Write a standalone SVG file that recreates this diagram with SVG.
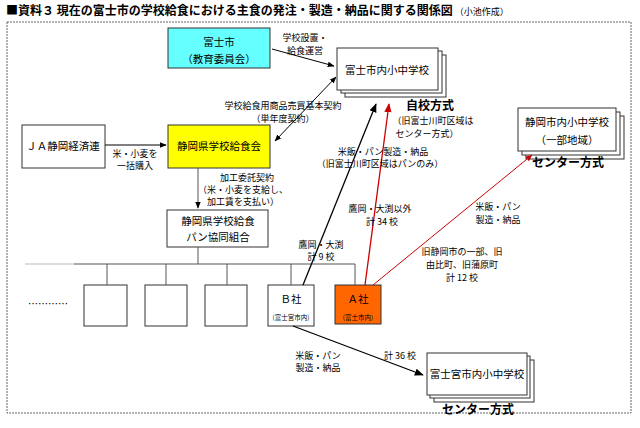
<svg xmlns="http://www.w3.org/2000/svg" width="640" height="428" viewBox="0 0 640 428">
<style>
text{font-family:"Noto Sans CJK JP","Noto Sans CJK SC",sans-serif;font-size:9px;text-anchor:middle;fill:#000}
.b{fill:#fff;stroke:#333;stroke-width:1}
.t{font-size:10.5px}
.h{font-weight:bold;font-size:12px}
.s{font-size:6.5px}
.l{stroke:#555;stroke-width:1;fill:none}
</style>
<defs>
<marker id="ab" viewBox="0 0 10 10" refX="9" refY="5" markerWidth="7" markerHeight="7" orient="auto-start-reverse"><path d="M0,1L10,5L0,9z" fill="#000"/></marker>
<marker id="ar" viewBox="0 0 10 10" refX="9" refY="5" markerWidth="7" markerHeight="7" orient="auto"><path d="M0,1L10,5L0,9z" fill="#c00"/></marker>
</defs>
<text x="6" y="15" style="text-anchor:start;font-weight:bold;font-size:12px">■資料３ 現在の富士市の学校給食における主食の発注・製造・納品に関する関係図<tspan style="font-weight:normal;font-size:9px"> （小池作成）</tspan></text>
<rect x="7" y="22" width="624" height="391" fill="none" stroke="#666" stroke-dasharray="2,1"/>
<g id="fujishi"><rect x="168" y="28" width="102" height="40" fill="#66FFFF" stroke="#333"/><text class="t" x="219" y="46">富士市</text><text class="t" x="219" y="63">（教育委員会）</text></g>
<g id="fujischools"><rect class="b" x="345" y="55" width="101" height="42"/><rect class="b" x="341" y="51" width="101" height="42"/><rect class="b" x="337" y="48" width="101" height="42"/><text class="t" x="387" y="74">富士市内小中学校</text><text class="h" x="430" y="110">自校方式</text><text x="433" y="124">（旧富士川町区域は</text><text x="427" y="137">センター方式）</text></g>
<g id="ja"><rect class="b" x="22" y="125" width="83" height="43"/><text class="t" x="63" y="150">ＪＡ静岡経済連</text></g>
<g id="kyushokukai"><rect x="168" y="125" width="102" height="43" fill="#FFFF00" stroke="#333"/><text class="t" x="219" y="150">静岡県学校給食会</text></g>
<g id="kumiai"><rect class="b" x="167" y="210" width="101" height="37"/><text class="t" x="218" y="225">静岡県学校給食</text><text class="t" x="218" y="241">パン協同組合</text></g>
<g id="c1"><rect class="b" x="84" y="285" width="43" height="41"/></g>
<g id="c2"><rect class="b" x="145" y="285" width="42" height="41"/></g>
<g id="c3"><rect class="b" x="205" y="285" width="42" height="41"/></g>
<g id="bsha"><rect class="b" x="268" y="285" width="46" height="41"/><text class="t" x="291" y="303">Ｂ社</text><text class="s" x="291" y="320">(富士宮市内)</text></g>
<g id="asha"><rect x="335" y="285" width="46" height="39" fill="#FF6600" stroke="#333"/><text class="t" x="358" y="303">Ａ社</text><text class="s" x="358" y="320">(富士市内)</text></g>
<g id="shizuoka"><rect class="b" x="526" y="116" width="98" height="43"/><rect class="b" x="522" y="112" width="98" height="43"/><rect class="b" x="518" y="108" width="98" height="43"/><text class="t" x="567" y="126">静岡市内小中学校</text><text class="t" x="567" y="144">（一部地域）</text><text class="h" x="568" y="167">センター方式</text></g>
<g id="fujinomiya"><rect class="b" x="434" y="360" width="100" height="42"/><rect class="b" x="430" y="356" width="100" height="42"/><rect class="b" x="427" y="353" width="100" height="42"/><text class="t" x="477" y="378">富士宮市内小中学校</text><text class="h" x="478" y="414">センター方式</text></g>
<text x="48" y="308" style="font-size:10px">…………</text>
<g id="connectors">
<line x1="272" y1="49" x2="334" y2="66" stroke="#000" marker-end="url(#ab)"/>
<line x1="275" y1="141" x2="336" y2="77" stroke="#000" marker-start="url(#ab)" marker-end="url(#ab)"/>
<line x1="105" y1="145" x2="166" y2="145" stroke="#000" marker-end="url(#ab)"/>
<line x1="198" y1="168" x2="198" y2="208" stroke="#555" marker-end="url(#ab)"/>
<path class="l" d="M198,247V264M74,264H355M107,264V285M166,264V285M227,264V285M291,264V285M355,264V285"/>
<line x1="25" y1="264" x2="74" y2="264" stroke="#bbb"/>
<line x1="303" y1="285" x2="376" y2="104" stroke="#000" stroke-width="1.3" marker-end="url(#ab)"/>
<line x1="365" y1="285" x2="389" y2="104" stroke="#c00" stroke-width="1.3" marker-end="url(#ar)"/>
<line x1="373" y1="285" x2="532" y2="155" stroke="#c00" stroke-width="1" marker-end="url(#ar)"/>
<line x1="293" y1="326" x2="423" y2="375" stroke="#000" stroke-width="1.3" marker-end="url(#ab)"/>
</g>
<g id="labels">
<text x="305" y="41">学校設置・</text><text x="305" y="54">給食運営</text>
<text x="283" y="109">学校給食用商品売買基本契約</text><text x="283" y="122">（単年度契約）</text>
<text x="135" y="157">米・小麦を</text><text x="135" y="169">一括購入</text>
<text x="247" y="181">加工委託契約</text><text x="243" y="193">（米・小麦を支給し、</text><text x="243" y="205">加工賃を支払い）</text>
<text x="321" y="248">鷹岡・大渕</text><text x="321" y="260">計 9 校</text>
<text x="383" y="155">米飯・パン製造・納品</text><text x="380" y="167">（旧富士川町区域はパンのみ）</text>
<text x="380" y="212">鷹岡・大渕以外</text><text x="382" y="225">計 34 校</text>
<text x="498" y="210">米飯・パン</text><text x="498" y="223">製造・納品</text>
<text x="462" y="255">旧静岡市の一部、旧</text><text x="462" y="268">由比町、旧蒲原町</text><text x="462" y="281">計 12 校</text>
<text x="318" y="359">米飯・パン</text><text x="318" y="371">製造・納品</text><text x="400" y="359">計 36 校</text>
</g>
</svg>
